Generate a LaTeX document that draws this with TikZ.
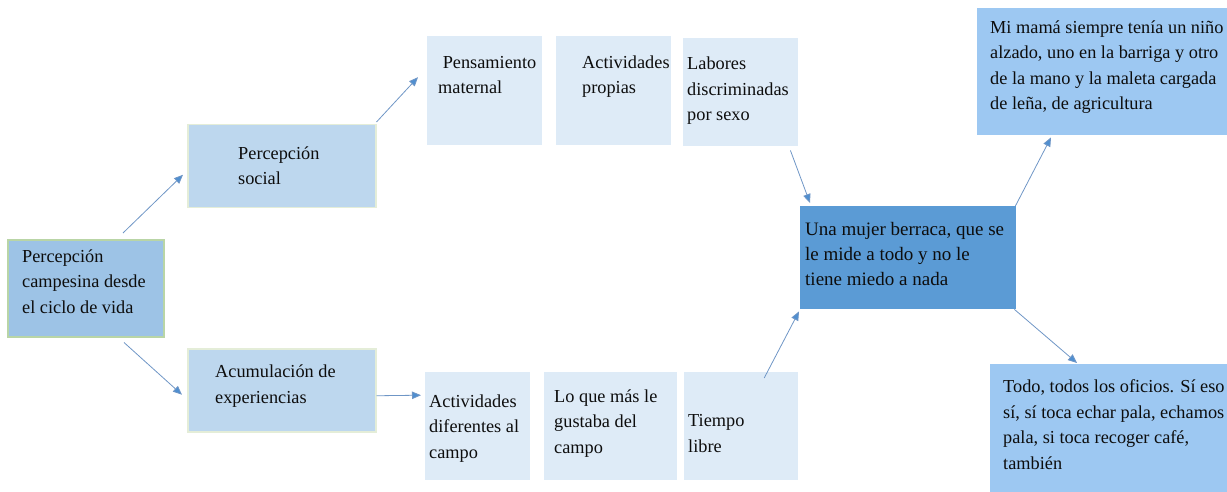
\documentclass[tikz,border=0pt]{standalone}
\usepackage{fontspec}
\setmainfont{Liberation Serif}
\newfontfamily\tnr{Liberation Serif}
\usetikzlibrary{arrows.meta}
\definecolor{rootfill}{HTML}{9DC3E6}
\definecolor{rootedge}{HTML}{B9D5A6}
\definecolor{midfill}{HTML}{BDD7EE}
\definecolor{midedge}{HTML}{E4EDD8}
\definecolor{lightfill}{HTML}{DEEBF7}
\definecolor{cenfill}{HTML}{5B9BD5}
\definecolor{sidefill}{HTML}{9DC8F2}
\definecolor{arrcol}{HTML}{6F96C6}
\definecolor{headcol}{HTML}{4F8FD0}
\definecolor{txtcol}{HTML}{0D0D0D}
\tikzset{
  boxbase/.style={rectangle, inner sep=0pt, anchor=north west},
  rootbox/.style={boxbase, fill=rootfill, draw=rootedge, line width=1.5pt},
  midbox/.style={boxbase, fill=midfill, draw=midedge, line width=1.5pt},
  lightbox/.style={boxbase, fill=lightfill},
  cenbox/.style={boxbase, fill=cenfill},
  sidebox/.style={boxbase, fill=sidefill},
  txt/.style={anchor=base west, inner sep=0pt, align=left, text=txtcol,
    font=\tnr\fontsize{18.3}{25.5}\selectfont},
  bigtxt/.style={txt, font=\tnr\fontsize{19}{25}\selectfont},
  arr/.style={draw=arrcol, line width=0.8pt, -{Triangle[length=9pt,width=7.5pt,fill=headcol]}},
}
\begin{document}
\begin{tikzpicture}[x=1pt,y=-1pt]
\useasboundingbox (0,0) rectangle (1227,492);
% boxes
\node[rootbox, minimum width=156pt, minimum height=97pt] (root) at (7,239) {};
\node[midbox, minimum width=188pt, minimum height=83pt] (soc) at (187,124) {};
\node[midbox, minimum width=188pt, minimum height=83pt] (acu) at (187,348) {};
\node[lightbox, minimum width=115pt, minimum height=109pt] (pen) at (427,36) {};
\node[lightbox, minimum width=115pt, minimum height=109pt] (act) at (556,36) {};
\node[lightbox, minimum width=115pt, minimum height=108pt] (lab) at (683,38) {};
\node[lightbox, minimum width=105pt, minimum height=108pt] (dif) at (425,372) {};
\node[lightbox, minimum width=133pt, minimum height=108pt] (gus) at (544,372) {};
\node[lightbox, minimum width=114pt, minimum height=108pt] (tie) at (684,372) {};
\node[cenbox, minimum width=216pt, minimum height=103pt] (cen) at (800,206) {};
\node[sidebox, minimum width=250pt, minimum height=127pt] (mam) at (977,8) {};
\node[sidebox, minimum width=237pt, minimum height=130pt] (tod) at (990,364) {};
% texts (anchored at the baseline of their last line)
\node[txt] (troot) at (22,313) {Percepción\\campesina desde\\el ciclo de vida};
\node[txt] (tsoc) at (238,185) {Percepción\\social};
\node[txt] (tacu) at (215,403) {Acumulación de\\experiencias};
\node[txt] (tpen) at (438,94) {\ Pensamiento\\maternal};
\node[txt] (tact) at (582,94) {Actividades\\propias};
\node[txt] (tlab) at (687,121) {Labores\\discriminadas\\por sexo};
\node[txt] (tdif) at (429,458) {Actividades\\diferentes al\\campo};
\node[txt] (tgus) at (554,453) {Lo que más le\\gustaba del\\campo};
\node[txt] (ttie) at (688,452) {Tiempo\\libre};
\node[bigtxt] (tcen) at (805,285) {Una mujer berraca, que se\\le mide a todo y no le\\tiene miedo a nada};
\node[txt] (tmam) at (990,110) {Mi mamá siempre tenía un niño\\alzado, uno en la barriga y otro\\de la mano y la maleta cargada\\de leña, de agricultura};
\node[txt] (ttod) at (1003,469) {Todo, todos los oficios. Sí eso\\sí, sí toca echar pala, echamos\\pala, si toca recoger café,\\también};
% connectors
\draw[arr] ([shift={(116,-6)}]root.north west) -- ([shift={(-4,8.5)}]soc.west);
\draw[arr] ([shift={(117,5)}]root.south west) -- ([shift={(-5,4.5)}]acu.west);
\draw[arr] ([shift={(0,-2)}]soc.north east) -- ([shift={(-9,-13.5)}]pen.west);
\draw[arr] ([shift={(0,5.5)}]acu.east) -- ([shift={(-4,-31)}]dif.west);
\draw[arr] ([shift={(-8,4)}]lab.south east) -- ([shift={(10,-3)}]cen.north west);
\draw[arr] ([shift={(23,6)}]tie.north) -- ([shift={(-1,2)}]cen.south west);
\draw[arr] ([shift={(-1,0)}]cen.north east) -- ([shift={(74,2)}]mam.south west);
\draw[arr] ([shift={(-2,0)}]cen.south east) -- ([shift={(87,-1)}]tod.north west);
\end{tikzpicture}
\end{document}
